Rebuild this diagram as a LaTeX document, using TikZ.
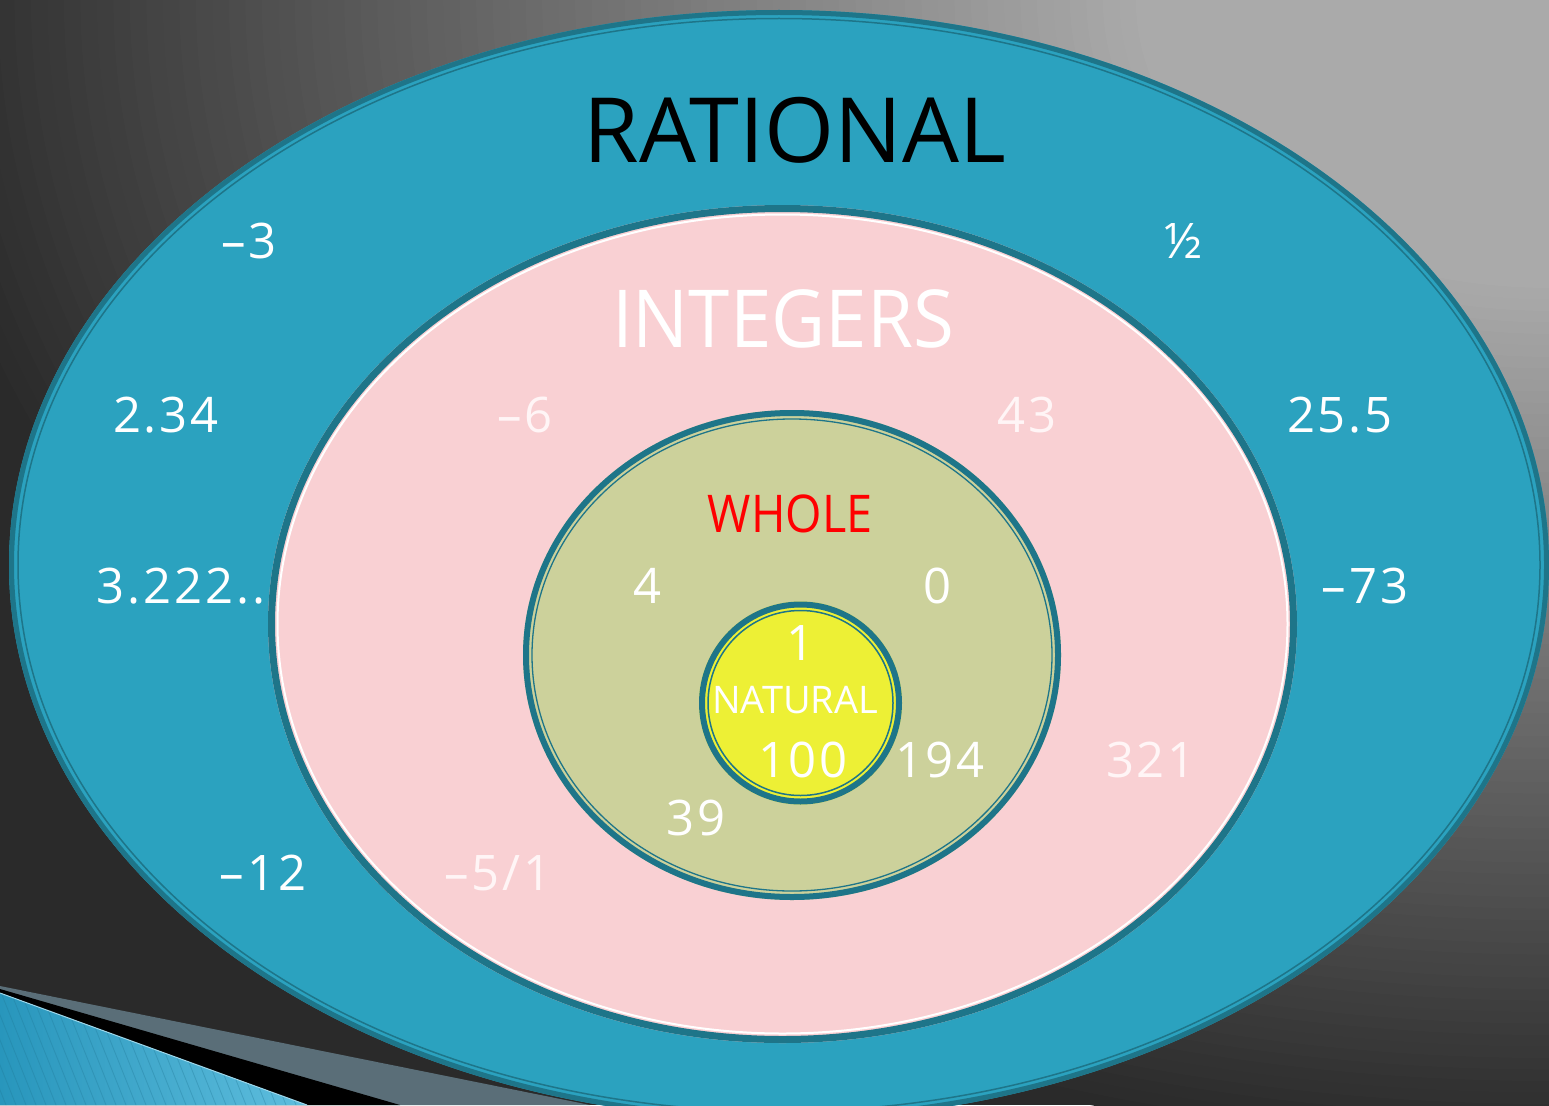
\documentclass[tikz,border=0pt]{standalone}
\usepackage{fontspec}
\setmainfont{Open Sans}
\newfontfamily\numfont[LetterSpace=6]{Open Sans}
\newfontfamily\capfont{Open Sans}
\newfontfamily\intfont[FakeStretch=0.93]{Open Sans}
\newfontfamily\wholefont[FakeStretch=0.9]{Open Sans}
\definecolor{ratfill}{RGB}{43,162,191}
\definecolor{ratline}{RGB}{30,117,137}
\definecolor{pinkfill}{RGB}{249,208,211}
\definecolor{wholefill}{RGB}{204,209,155}
\definecolor{natfill}{RGB}{237,240,53}
\definecolor{bgdark}{RGB}{42,42,42}
\definecolor{bglight}{RGB}{170,170,170}
\definecolor{bandgray}{RGB}{90,110,120}
\definecolor{wedgeA}{RGB}{40,150,188}
\definecolor{wedgeB}{RGB}{95,190,222}
\definecolor{pinktext}{RGB}{255,245,246}
\tikzset{
  numlabel/.style={anchor=base, text=white, inner sep=0pt, font=\numfont\fontsize{49}{49}\selectfont},
  pinklabel/.style={numlabel, text=pinktext},
  biglabel/.style={anchor=base, inner sep=0pt},
  rim/.style={draw=ratline, line width=#1},
}
\begin{document}
\begin{tikzpicture}[x=1pt,y=-1pt]
\useasboundingbox (0,0) rectangle (1549,1105);
\begin{scope}
\clip (0,0) rectangle (1549,1105);
% background
\fill[bgdark] (0,0) rectangle (1549,1105);
\foreach \t in {1.00,0.99,...,0.24} {
  \pgfmathsetmacro{\pc}{max(0,min(100,(1-\t)/0.75*100))}
  \fill[bglight!\pc!bgdark] (1549,0) ellipse [x radius=1650*\t pt, y radius=1150*\t pt];
}
% bottom-left decoration
\fill[bandgray] (0,986) -- (590,1105) -- (0,1105) -- cycle;
\fill[black] (0,989) -- (400,1105) -- (0,1105) -- cycle;
\begin{scope}
\clip (0,993) -- (307,1105) -- (0,1105) -- cycle;
\shade[left color=wedgeA, right color=wedgeB] (0,990) rectangle (310,1105);
\foreach \i in {-60,-50,...,320} {
  \draw[wedgeA!80!black, opacity=0.35, line width=0.8pt] (\i,990) -- ++(50,125);
}
\end{scope}
\draw[wedgeB!60!white, line width=1pt] (0,993) -- (307,1105);
% rational
\fill[ratfill] (779,565) ellipse [x radius=770pt, y radius=555pt];
\draw[rim=5pt] (779,565) ellipse [x radius=767.5pt, y radius=552.5pt];
\draw[rim=1.5pt] (779,565) ellipse [x radius=761pt, y radius=546.5pt];
% integers
\fill[pinkfill] (782.5,624) ellipse [x radius=514.5pt, y radius=419pt];
\draw[rim=7pt] (782.5,624) ellipse [x radius=511pt, y radius=415.5pt];
\draw[white, line width=2pt] (782.5,624) ellipse [x radius=505pt, y radius=409.5pt];
% whole
\fill[wholefill] (792,655) ellipse [x radius=269pt, y radius=245pt];
\draw[rim=6pt] (792,655) ellipse [x radius=266pt, y radius=242pt];
\draw[rim=1.3pt] (792,655) ellipse [x radius=260pt, y radius=236pt];
% natural
\fill[natfill] (800.5,703) circle [radius=101.5pt];
\draw[rim=6pt] (800.5,703) circle [radius=98.5pt];
\draw[rim=1.5pt] (800.5,703) circle [radius=92.5pt];
\end{scope}
% titles
\node[biglabel, text=black, font=\capfont\fontsize{90}{90}\selectfont] (rational) at (795,162) {RATIONAL};
\node[biglabel, text=white, font=\intfont\fontsize{80}{80}\selectfont] (integers) at (783,347) {INTEGERS};
\node[biglabel, text=red, font=\wholefont\fontsize{52}{52}\selectfont] (whole) at (790,532) {WHOLE};
\node[biglabel, text=white, font=\capfont\fontsize{38}{38}\selectfont] (natural) at (795,713) {NATURAL};
% rational numbers
\node[numlabel] (nm3) at (249,258) {–3};
\node[numlabel] (nhalf) at (1184,258) {½};
\node[numlabel] (n234) at (166,432) {2.34};
\node[numlabel] (n255) at (1340,432) {25.5};
\node[numlabel] (n3222) at (181,603) {3.222..};
\node[numlabel] (nm73) at (1365,603) {–73};
\node[numlabel] (nm12) at (263,890) {–12};
% integers
\node[pinklabel] (nm6) at (525,432) {–6};
\node[pinklabel] (n43) at (1027,432) {43};
\node[pinklabel] (n321) at (1151,777) {321};
\node[pinklabel] (nm51) at (498,890) {–5/1};
% whole
\node[numlabel] (n4) at (647,603) {4};
\node[numlabel] (n0) at (937,603) {0};
\node[numlabel] (n194) at (940,777) {194};
\node[numlabel] (n39) at (696,835) {39};
% natural
\node[numlabel] (n1) at (800,660) {1};
\node[numlabel] (n100) at (803,777) {100};
\end{tikzpicture}
\end{document}
